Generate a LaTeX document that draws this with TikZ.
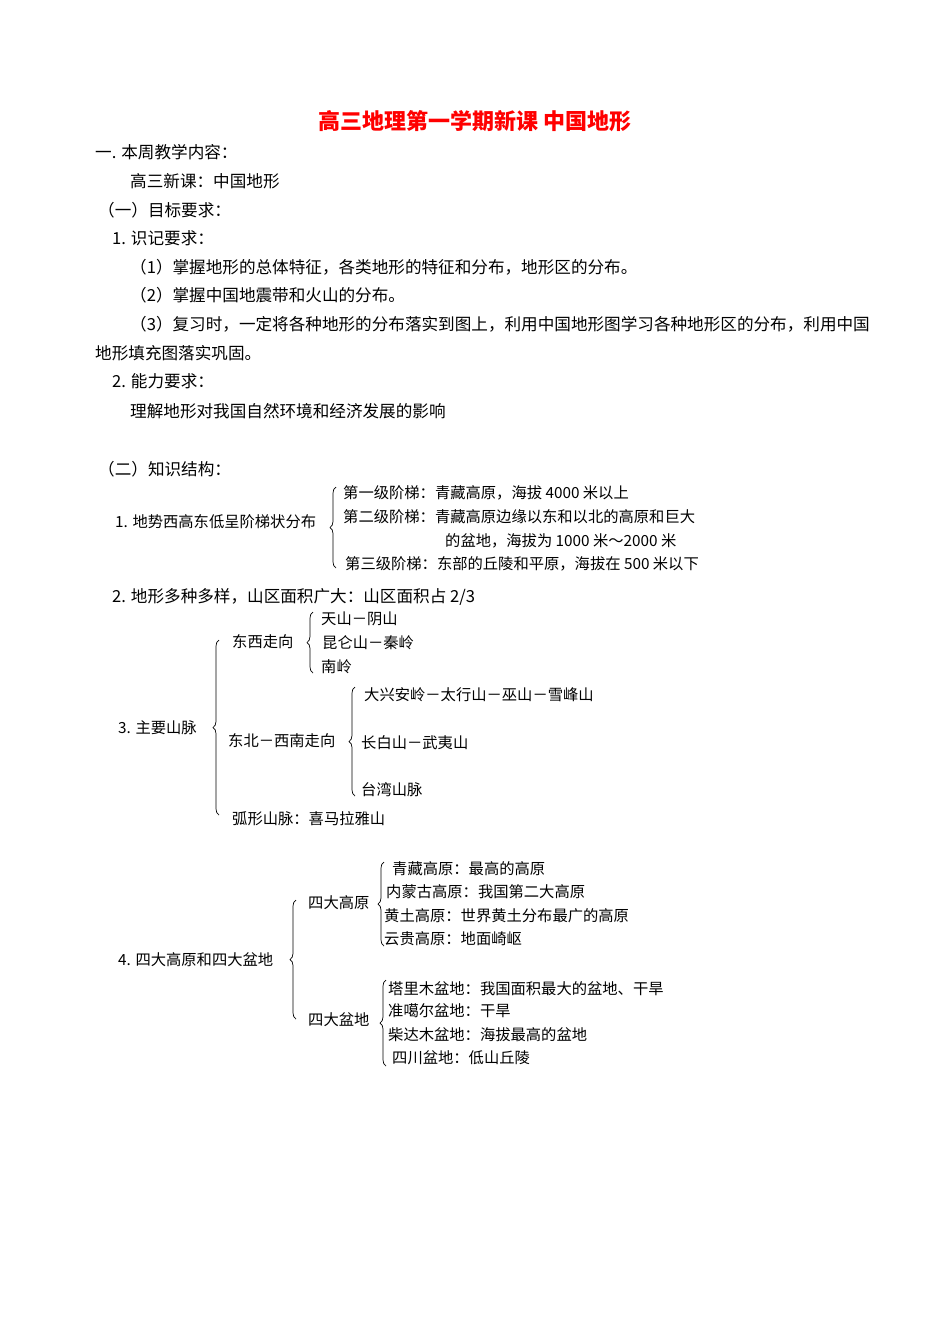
\documentclass[tikz,border=0pt]{standalone}
\usepackage{fontspec}
\setmainfont{Noto Sans CJK SC}
\usetikzlibrary{decorations.pathreplacing}
\begin{document}
\begin{tikzpicture}[x=1pt,y=-1pt,
  body/.style={anchor=base west,inner sep=0pt,font=\fontsize{16.6}{19}\selectfont},
  dg/.style={anchor=base west,inner sep=0pt,font=\fontsize{15.3}{18}\selectfont},
  br/.style={decorate,decoration={brace,amplitude=6pt},line width=0.7pt}]
\useasboundingbox (0,0) rectangle (950,1344);
\fill[white] (0,0) rectangle (950,1344);
\node[anchor=base,inner sep=0pt,text=red,font=\fontsize{22}{25}\selectfont\bfseries] (title) at (475,129) {高三地理第一学期新课 中国地形};
\node[body] (l1) at (95,158) {一. 本周教学内容：};
\node[body] (l2) at (130,187) {高三新课：中国地形};
\node[body] (l3) at (98,216) {（一）目标要求：};
\node[body] (l4) at (112,244) {1. 识记要求：};
\node[body] (l5) at (130,273) {（1）掌握地形的总体特征，各类地形的特征和分布，地形区的分布。};
\node[body] (l6) at (130,301) {（2）掌握中国地震带和火山的分布。};
\node[body] (l7) at (130,330) {（3）复习时，一定将各种地形的分布落实到图上，利用中国地形图学习各种地形区的分布，利用中国};
\node[body] (l8) at (95,359) {地形填充图落实巩固。};
\node[body] (l9) at (112,387) {2. 能力要求：};
\node[body] (l10) at (130,417) {理解地形对我国自然环境和经济发展的影响};
\node[body] (l11) at (98,475) {（二）知识结构：};
% section 1
\node[dg] (s1) at (115,527) {1. 地势西高东低呈阶梯状分布};
\draw[br] (336,568) -- (336,487);
\node[dg] (s1a) at (343,498) {第一级阶梯：青藏高原，海拔 4000 米以上};
\node[dg] (s1b) at (343,522) {第二级阶梯：青藏高原边缘以东和以北的高原和巨大};
\node[dg] (s1c) at (445,546) {的盆地，海拔为 1000 米～2000 米};
\node[dg] (s1d) at (345,569) {第三级阶梯：东部的丘陵和平原，海拔在 500 米以下};
\node[body] (s2) at (112,602) {2. 地形多种多样，山区面积广大：山区面积占 2/3};
% section 3
\node[dg] (s3) at (118,733) {3. 主要山脉};
\draw[br] (219,815) -- (219,640);
\node[dg] (e) at (232,647) {东西走向};
\draw[br] (313,673) -- (313,612);
\node[dg] (e1) at (321,624) {天山－阴山};
\node[dg] (e2) at (322,648) {昆仑山－秦岭};
\node[dg] (e3) at (321,672) {南岭};
\node[dg] (ne) at (228,746) {东北－西南走向};
\draw[br] (355,796) -- (355,687);
\node[dg] (ne1) at (364,700) {大兴安岭－太行山－巫山－雪峰山};
\node[dg] (ne2) at (361,748) {长白山－武夷山};
\node[dg] (ne3) at (361,795) {台湾山脉};
\node[dg] (arc) at (232,824) {弧形山脉：喜马拉雅山};
% section 4
\node[dg] (s4) at (118,965) {4. 四大高原和四大盆地};
\draw[br] (296,1019) -- (296,900);
\node[dg] (p) at (308,908) {四大高原};
\draw[br] (384,946) -- (384,862);
\node[dg] (p1) at (392,874) {青藏高原：最高的高原};
\node[dg] (p2) at (386,897) {内蒙古高原：我国第二大高原};
\node[dg] (p3) at (384,921) {黄土高原：世界黄土分布最广的高原};
\node[dg] (p4) at (384,944) {云贵高原：地面崎岖};
\node[dg] (b) at (308,1025) {四大盆地};
\draw[br] (386,1066) -- (386,980);
\node[dg] (b1) at (388,994) {塔里木盆地：我国面积最大的盆地、干旱};
\node[dg] (b2) at (388,1016) {准噶尔盆地：干旱};
\node[dg] (b3) at (388,1040) {柴达木盆地：海拔最高的盆地};
\node[dg] (b4) at (392,1063) {四川盆地：低山丘陵};
\end{tikzpicture}
\end{document}
